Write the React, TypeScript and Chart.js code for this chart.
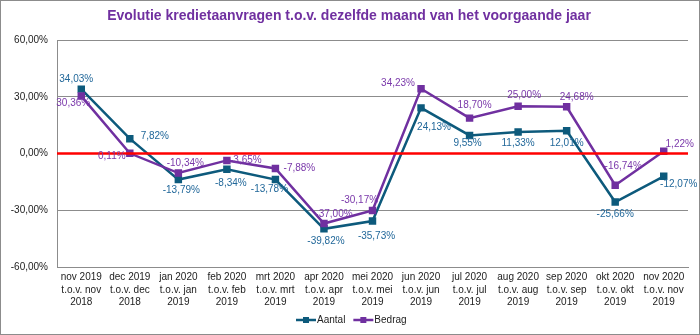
import React, { useEffect, useRef } from "react";
import { Chart, registerables } from "chart.js";

Chart.register(...registerables);

const categories: string[][] = [
  ["nov 2019", "t.o.v. nov", "2018"],
  ["dec 2019", "t.o.v. dec", "2018"],
  ["jan 2020", "t.o.v. jan", "2019"],
  ["feb 2020", "t.o.v. feb", "2019"],
  ["mrt 2020", "t.o.v. mrt", "2019"],
  ["apr 2020", "t.o.v. apr", "2019"],
  ["mei 2020", "t.o.v. mei", "2019"],
  ["jun 2020", "t.o.v. jun", "2019"],
  ["jul 2020", "t.o.v. jul", "2019"],
  ["aug 2020", "t.o.v. aug", "2019"],
  ["sep 2020", "t.o.v. sep", "2019"],
  ["okt 2020", "t.o.v. okt", "2019"],
  ["nov 2020", "t.o.v. nov", "2019"],
];

const aantal: number[] = [34.03, 7.82, -13.79, -8.34, -13.78, -39.82, -35.73, 24.13, 9.55, 11.33, 12.01, -25.66, -12.07];
const bedrag: number[] = [30.36, 0.11, -10.34, -3.65, -7.88, -37.0, -30.17, 34.23, 18.7, 25.0, 24.68, -16.74, 1.22];

const yTicks: number[] = [-60, -30, 0, 30, 60];

const titleText = "Evolutie kredietaanvragen t.o.v. dezelfde maand van het voorgaande jaar";

// label center offsets relative to the point (style, not data)
const aantalLabelOffset: [number, number][] = [
  [-5, -10], [25, -2], [3, 11], [4, 14], [-6, 10], [2, 12], [4, 15], [13, 19], [-2, 8], [0, 11], [0, 12], [0, 12], [15, 8],
];
const bedragLabelOffset: [number, number][] = [
  [-8, 7], [-18, 3], [7, -10], [19, 0], [24, 0], [10, -9], [-13, -10], [-23, -5], [5, -13], [6, -11], [10, -10], [8, -19], [16, -7],
];

const AANTAL_LINE = "#0D5A7C";
const AANTAL_TEXT = "#22689A";
const BEDRAG_LINE = "#7030A0";
const BEDRAG_TEXT = "#7A38AA";
const GRID = "#8C8C8C";
const FONT = "'Liberation Sans', Arial, sans-serif";

const fmt = (v: number) => v.toFixed(2).replace(".", ",") + "%";

const decorPlugin = {
  id: "decor",
  afterDatasetsDraw(chart: any) {
    const { ctx, chartArea, scales } = chart;
    const y0 = scales.y.getPixelForValue(0);
    ctx.save();
    ctx.strokeStyle = "#FF0000";
    ctx.lineWidth = 2.5;
    ctx.beginPath();
    ctx.moveTo(chartArea.left, y0);
    ctx.lineTo(chartArea.right, y0);
    ctx.stroke();

    // data labels
    ctx.font = `10px ${FONT}`;
    ctx.textAlign = "center";
    ctx.textBaseline = "middle";
    const sets = [
      { idx: 0, offs: aantalLabelOffset, color: AANTAL_TEXT },
      { idx: 1, offs: bedragLabelOffset, color: BEDRAG_TEXT },
    ];
    sets.forEach((s) => {
      const meta = chart.getDatasetMeta(s.idx);
      const data = chart.data.datasets[s.idx].data as number[];
      ctx.fillStyle = s.color;
      meta.data.forEach((pt: any, i: number) => {
        const [dx, dy] = s.offs[i];
        ctx.fillText(fmt(data[i]), pt.x + dx, pt.y + dy);
      });
    });
    ctx.restore();
  },
  afterDraw(chart: any) {
    const { ctx, width, height } = chart;
    ctx.save();
    // outer border
    ctx.strokeStyle = "#8C8C8C";
    ctx.lineWidth = 1;
    ctx.strokeRect(0.5, 0.5, width - 1, height - 1);
    // title
    ctx.fillStyle = "#7030A0";
    ctx.font = `bold 14px ${FONT}`;
    ctx.textAlign = "center";
    ctx.textBaseline = "middle";
    ctx.fillText(titleText, 349, 16);
    // legend
    const items = [
      { label: chart.data.datasets[0].label, color: AANTAL_LINE },
      { label: chart.data.datasets[1].label, color: BEDRAG_LINE },
    ];
    ctx.font = `10px ${FONT}`;
    ctx.textAlign = "left";
    const ly = 320;
    let x = 296;
    items.forEach((it) => {
      ctx.strokeStyle = it.color;
      ctx.lineWidth = 2.5;
      ctx.beginPath();
      ctx.moveTo(x, ly);
      ctx.lineTo(x + 20, ly);
      ctx.stroke();
      ctx.fillStyle = it.color;
      ctx.fillRect(x + 7, ly - 3, 6, 6);
      ctx.fillStyle = "#222";
      ctx.fillText(it.label, x + 21, ly);
      x += 21 + ctx.measureText(it.label).width + 8;
    });
    ctx.restore();
  },
};

export default function App() {
  const ref = useRef<HTMLCanvasElement>(null);
  useEffect(() => {
    if (!ref.current) return;
    const chart = new Chart(ref.current, {
      type: "line",
      data: {
        labels: categories,
        datasets: [
          {
            label: "Aantal",
            data: aantal,
            borderColor: AANTAL_LINE,
            backgroundColor: AANTAL_LINE,
            pointBackgroundColor: AANTAL_LINE,
            pointBorderColor: AANTAL_LINE,
            borderWidth: 2.5,
            pointStyle: "rect",
            pointRadius: 3.5,
            tension: 0,
            order: 1,
          },
          {
            label: "Bedrag",
            data: bedrag,
            borderColor: BEDRAG_LINE,
            backgroundColor: BEDRAG_LINE,
            pointBackgroundColor: BEDRAG_LINE,
            pointBorderColor: BEDRAG_LINE,
            borderWidth: 2.5,
            pointStyle: "rect",
            pointRadius: 3.5,
            tension: 0,
            order: 0,
          },
        ],
      },
      options: {
        animation: false,
        responsive: false,
        devicePixelRatio: 1,
        layout: { padding: { top: 40, right: 12, left: 0, bottom: 0 } },
        plugins: {
          legend: { display: false },
          title: { display: false },
          tooltip: { enabled: false },
        },
        scales: {
          x: {
            type: "category",
            offset: true,
            grid: { display: false, drawTicks: false, offset: true },
            border: { display: true, color: GRID, width: 1 },
            ticks: {
              autoSkip: false,
              maxRotation: 0,
              minRotation: 0,
              padding: 4,
              color: "#222",
              font: { family: FONT, size: 10, lineHeight: 1.25 },
            },
            afterFit: (s: any) => {
              s.height = 68;
            },
          },
          y: {
            min: -60,
            max: 60,
            afterBuildTicks: (s: any) => {
              s.ticks = yTicks.map((v) => ({ value: v }));
            },
            grid: { color: GRID, lineWidth: 1, drawTicks: false },
            border: { display: true, color: GRID, width: 1 },
            ticks: {
              padding: 9,
              color: "#222",
              font: { family: FONT, size: 10 },
              callback: (v: any) => fmt(Number(v)),
            },
            afterFit: (s: any) => {
              s.width = 57;
            },
          },
        },
      },
      plugins: [decorPlugin],
    });
    return () => chart.destroy();
  }, []);
  return (
    <div style={{ position: "fixed", left: 0, top: 0, width: 700, height: 335, background: "#fff" }}>
      <canvas ref={ref} width={700} height={335} style={{ display: "block" }} />
    </div>
  );
}
